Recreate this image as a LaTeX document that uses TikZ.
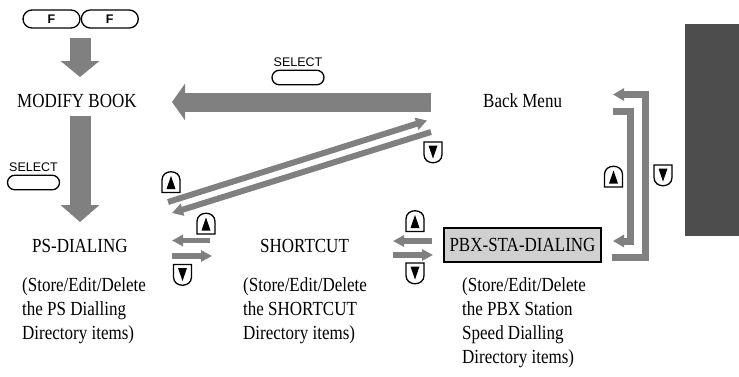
\documentclass[tikz,border=0pt]{standalone}
\usepackage{fontspec}
\setmainfont{Liberation Serif}[FakeStretch=0.85]
\newfontfamily\keyfont{Liberation Sans}
\usetikzlibrary{arrows.meta, shapes.misc, positioning}
\definecolor{arrowgray}{HTML}{808080}
\definecolor{tabgray}{HTML}{4D4D4D}
\definecolor{boxgray}{HTML}{D0D0D0}

\begin{document}
\begin{tikzpicture}[x=1pt, y=-1pt,
  label/.style={inner sep=0pt, font=\fontsize{20}{24}\selectfont},
  note/.style={label, align=left, anchor=north west},
  menubox/.style={label, draw, fill=boxgray, line width=1.3pt, minimum width=157pt, minimum height=34pt},
  fkey/.style={rounded rectangle, draw, line width=1.3pt, minimum width=57pt, minimum height=18pt, inner sep=0pt, font=\keyfont\bfseries\fontsize{12.5}{12.5}\selectfont},
  selkey/.style={rounded rectangle, draw, line width=1.3pt, minimum width=52pt, minimum height=14.5pt, inner sep=0pt},
  seltext/.style={inner sep=0pt, font=\keyfont\fontsize{12.5}{12.5}\selectfont},
  bigarrow/.style n args={3}{arrowgray, line width=#1, -{Triangle[width=#2, length=#3]}},
  thinarrow/.style={arrowgray, line width=5.5pt, -{Triangle[width=11pt, length=11pt]}},
  bracket/.style={arrowgray, line width=7pt, line join=miter, -{Triangle[width=12pt, length=11pt]}},
  upkey/.pic={
    \draw[line width=1.3pt, fill=white] (-9,10.5) -- (-9,-2) .. controls (-9,-13) and (9,-13) .. (9,-2) -- (9,10.5) -- cycle;
    \fill (-4.5,7) -- (4.5,7) -- (0,-6) -- cycle;
  },
  downkey/.pic={
    \draw[line width=1.3pt, fill=white] (-9,-10.5) -- (9,-10.5) -- (9,2) .. controls (9,13) and (-9,13) .. (-9,2) -- cycle;
    \fill (-4.5,-7) -- (4.5,-7) -- (0,6) -- cycle;
  }
]
\useasboundingbox (0,0) rectangle (739,376);

% side tab
\fill[tabgray] (685,24) rectangle (739,236);

% keys and menu items
\node[fkey] (fkeyA) at (51.5,19) {F};
\node[fkey, right=0pt of fkeyA] (fkeyB) {F};
\node[label, anchor=base west] (modify) at (17,107) {MODIFY BOOK};
\node[label, anchor=base west] (back) at (483,107) {Back Menu};
\node[label, anchor=base west] (ps) at (32,252) {PS-DIALING};
\node[label, anchor=base west] (shortcut) at (260,252) {SHORTCUT};
\node[menubox] (pbx) at (522.5,245) {PBX-STA-DIALING};

\node[note] (psnote) at (22,277.3) {(Store/Edit/Delete\\the PS Dialling\\Directory items)};
\node[note] (scnote) at (243,277.3) {(Store/Edit/Delete\\the SHORTCUT\\Directory items)};
\node[note] (pbxnote) at (462,277.3) {(Store/Edit/Delete\\the PBX Station\\Speed Dialling\\Directory items)};

\node[seltext] (seltop) at (298,62) {SELECT};
\node[selkey, below=3pt of seltop] (selkeytop) {};
\node[seltext] (selleft) at (33.5,167) {SELECT};
\node[selkey, below=3pt of selleft] (selkeyleft) {};

% connector ends
\coordinate (fOut) at (80,38);
\coordinate (modIn) at (80,77);
\coordinate (modOut) at (80,116);
\coordinate (psIn) at (80,222);
\coordinate (backOut) at (431,102);
\coordinate (modEnd) at (172,102);
\coordinate (psUp) at (168,202);
\coordinate (backIn) at (427,120.5);
\coordinate (backDn) at (431,132);
\coordinate (psDn) at (172,213);

% big arrows
\draw[bigarrow={21pt}{38pt}{16pt}] (fOut) -- (modIn);
\draw[bigarrow={21pt}{38pt}{17pt}] (modOut) -- (psIn);
\draw[bigarrow={19pt}{36pt}{13pt}] (backOut) -- (modEnd);

% diagonal arrows
\draw[thinarrow, line width=6pt, -{Triangle[width=12pt, length=11pt]}] (psUp) -- (backIn);
\draw[thinarrow, line width=6pt, -{Triangle[width=12pt, length=11pt]}] (backDn) -- (psDn);

% horizontal arrows
\draw[thinarrow] (210,240.5) coordinate (scL) -- (172,240.5) coordinate (psR);
\draw[thinarrow] (172,256) coordinate (psR2) -- (212,256) coordinate (scL2);
\draw[thinarrow] (432,241) coordinate (pbxL) -- (393,241) coordinate (scR);
\draw[thinarrow] (393,255) coordinate (scR2) -- (433,255) coordinate (pbxL2);

% bracket arrows
\draw[bracket] (612,257.5) coordinate (pbxOut) -| (645.5,94.5) -- (613,94.5) coordinate (backR);
\draw[bracket] (613,111.5) coordinate (backR2) -| (630.5,241) -- (613,241) coordinate (pbxR);

% cursor keys
\pic at (171,182) {upkey};
\pic at (433,152.5) {downkey};
\pic at (206,223.5) {upkey};
\pic at (182.5,275) {downkey};
\pic at (415,221) {upkey};
\pic at (415,273.5) {downkey};
\pic at (613.5,176.5) {upkey};
\pic at (663,175.5) {downkey};
\end{tikzpicture}
\end{document}
